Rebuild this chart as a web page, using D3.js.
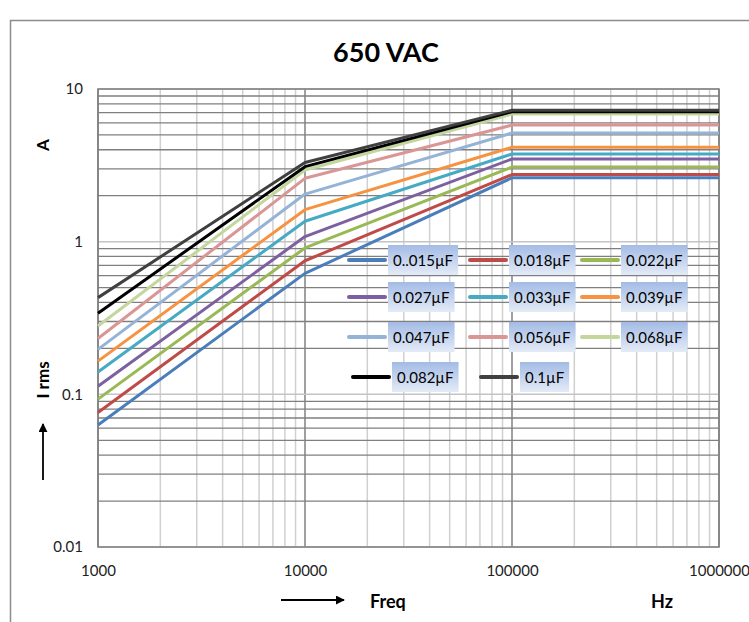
<!DOCTYPE html>
<html><head><meta charset="utf-8">
<script src="https://cdn.jsdelivr.net/npm/d3@7"></script>
<style>body{margin:0;background:#fff}svg{display:block}</style>
</head><body><svg id="c" width="749" height="622"></svg>
<script>
// ---- data ----
const seriesNames = ["0..015µF","0.018µF","0.022µF","0.027µF","0.033µF","0.039µF","0.047µF","0.056µF","0.068µF","0.082µF","0.1µF"];
const seriesColors = ["#4a7ebb","#be4b48","#98b954","#7d60a0","#46aac5","#f69240","#95b3d7","#d99694","#c3d69b","#000000","#404040"];
const freqs = [1000, 10000, 100000, 1000000];
const irms1k   = [0.063, 0.076, 0.093, 0.113, 0.14, 0.165, 0.197, 0.232, 0.28, 0.34, 0.43];
const irms10k  = [0.62, 0.75, 0.91, 1.08, 1.36, 1.62, 2.05, 2.6, 2.95, 3.1, 3.3];
const irms100k = [2.62, 2.75, 3.08, 3.48, 3.75, 4.15, 5.15, 5.8, 6.85, 7.1, 7.25];
const irms1M   = [2.62, 2.75, 3.08, 3.48, 3.75, 4.15, 5.15, 5.8, 6.85, 7.1, 7.25];
const xTickValues = [1000, 10000, 100000, 1000000];
const xTickLabels = ["1000","10000","100000","1000000"];
const yTickValues = [0.01, 0.1, 1, 10];
const yTickLabels = ["0.01","0.1","1","10"];

const svg = d3.select("#c");
const font = "Lato, 'Open Sans', sans-serif";
const L = 98, R = 719, T = 89, B = 547;
const x = d3.scaleLog().domain([1000, 1000000]).range([L, R]);
const y = d3.scaleLog().domain([0.01, 10]).range([B, T]);

// outer frame
svg.append("rect").attr("x", 10.5).attr("y", 20.5).attr("width", 760).attr("height", 640)
  .attr("fill", "#fff").attr("stroke", "#8c8c8c").attr("stroke-width", 1.5);

// title
svg.append("text").attr("x", 386).attr("y", 62).attr("text-anchor", "middle")
  .attr("font-family", font).attr("font-weight", "bold").attr("font-size", 27)
  .attr("fill", "#000").text("650 VAC");

// gridlines
const isMajor = v => Math.abs(Math.log10(v) - Math.round(Math.log10(v))) < 1e-9;
const g = svg.append("g");
const xt = x.ticks();
g.selectAll("line.vx").data(xt.filter(v => !isMajor(v))).join("line")
  .attr("x1", d => x(d)).attr("x2", d => x(d)).attr("y1", T).attr("y2", B)
  .attr("stroke", "#d0d0d0").attr("stroke-width", 1.5);
g.selectAll("line.vmaj").data(xt.filter(v => isMajor(v))).join("line")
  .attr("x1", d => x(d)).attr("x2", d => x(d)).attr("y1", T).attr("y2", B)
  .attr("stroke", "#808080").attr("stroke-width", 1.5);
const yt = y.ticks();
g.selectAll("line.hmaj").data(yt.filter(v => isMajor(v))).join("line")
  .attr("x1", L).attr("x2", R).attr("y1", d => y(d)).attr("y2", d => y(d))
  .attr("stroke", "#c4c4c4").attr("stroke-width", 1.5);
g.selectAll("line.hmin").data(yt.filter(v => !isMajor(v))).join("line")
  .attr("x1", L).attr("x2", R).attr("y1", d => y(d)).attr("y2", d => y(d))
  .attr("stroke", "#7f7f7f").attr("stroke-width", 1.3);
svg.append("rect").attr("x", L).attr("y", T).attr("width", R - L).attr("height", B - T)
  .attr("fill", "none").attr("stroke", "#7f7f7f").attr("stroke-width", 1.5);

// axes
const yAxis = d3.axisLeft(y).tickValues(yTickValues).tickFormat((d, i) => yTickLabels[i]).tickSize(0).tickPadding(15);
const ya = svg.append("g").attr("transform", `translate(${L},0)`).call(yAxis);
ya.select(".domain").remove();
ya.selectAll("text").attr("font-family", font).attr("font-size", 15).attr("fill", "#222");
const xAxis = d3.axisBottom(x).tickValues(xTickValues).tickFormat((d, i) => xTickLabels[i]).tickSize(0).tickPadding(18);
const xa = svg.append("g").attr("transform", `translate(0,${B})`).call(xAxis);
xa.select(".domain").remove();
xa.selectAll("text").attr("font-family", font).attr("font-size", 15).attr("fill", "#222");

// series lines
const seriesData = seriesNames.map((n, i) => ({
  name: n, color: seriesColors[i],
  values: [irms1k[i], irms10k[i], irms100k[i], irms1M[i]].map((v, j) => ({f: freqs[j], v}))
}));
const line = d3.line().x(d => x(d.f)).y(d => y(d.v));
svg.append("g").selectAll("path").data(seriesData).join("path")
  .attr("d", d => line(d.values)).attr("fill", "none")
  .attr("stroke", d => d.color).attr("stroke-width", 3).attr("stroke-linejoin", "round");

// legend
const defs = svg.append("defs");
const grad = defs.append("linearGradient").attr("id", "lg").attr("x1", 0).attr("y1", 0).attr("x2", 0).attr("y2", 1);
grad.append("stop").attr("offset", "0%").attr("stop-color", "#a3bbe5");
grad.append("stop").attr("offset", "100%").attr("stop-color", "#e4ebf7");
const colX = [349, 470, 582];
const rowY = [260, 297, 337, 377];
const lg = svg.append("g");
seriesData.forEach((s, i) => {
  const c = i % 3, r = Math.floor(i / 3);
  const lx = colX[c] + (r === 3 && c === 0 ? 4 : 0) + (r === 3 && c === 1 ? 11 : 0);
  const ly = rowY[r];
  lg.append("line").attr("x1", lx).attr("x2", lx + 36).attr("y1", ly).attr("y2", ly)
    .attr("stroke", s.color).attr("stroke-width", 4).attr("stroke-linecap", "round");
  const item = lg.append("g");
  const rect = item.append("rect").attr("fill", "url(#lg)");
  const t = item.append("text").attr("x", lx + 44).attr("y", ly + 6)
    .attr("font-family", font).attr("font-size", 15).attr("fill", "#000").text(s.name);
  const w = t.node().getComputedTextLength();
  rect.attr("x", lx + 39).attr("y", ly - 15).attr("width", w + 10).attr("height", 30);
});

// axis titles
svg.append("text").attr("transform", "translate(49,145) rotate(-90)").attr("text-anchor", "middle")
  .attr("font-family", font).attr("font-weight", "bold").attr("font-size", 17).text("A");
svg.append("text").attr("transform", "translate(49,380) rotate(-90)").attr("text-anchor", "middle")
  .attr("font-family", font).attr("font-weight", "bold").attr("font-size", 17).text("I rms");
svg.append("text").attr("x", 370).attr("y", 608)
  .attr("font-family", font).attr("font-weight", "bold").attr("font-size", 18).text("Freq");
svg.append("text").attr("x", 651).attr("y", 608)
  .attr("font-family", font).attr("font-weight", "bold").attr("font-size", 18).text("Hz");
// arrows
const arr = defs.append("marker").attr("id", "ah").attr("viewBox", "0 0 10 10").attr("refX", 9).attr("refY", 5)
  .attr("markerWidth", 5).attr("markerHeight", 5).attr("orient", "auto");
arr.append("path").attr("d", "M0,0L10,5L0,10z").attr("fill", "#000");
svg.append("line").attr("x1", 43).attr("x2", 43).attr("y1", 480).attr("y2", 424)
  .attr("stroke", "#000").attr("stroke-width", 1.8).attr("marker-end", "url(#ah)");
svg.append("line").attr("x1", 281).attr("x2", 344).attr("y1", 600).attr("y2", 600)
  .attr("stroke", "#000").attr("stroke-width", 1.8).attr("marker-end", "url(#ah)");
</script></body></html>
